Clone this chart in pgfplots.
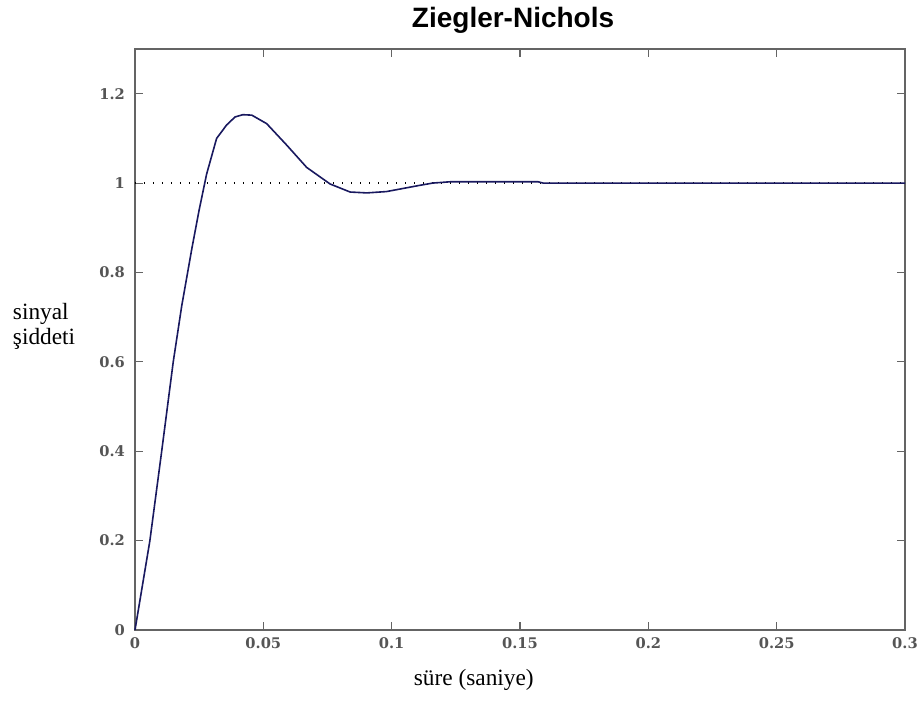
\documentclass[border=0pt]{standalone}
\usepackage{pgfplots}
\pgfplotsset{compat=1.18}
\usepackage{fontspec}
\setmainfont{Liberation Serif}
\newfontfamily\titlefont{Liberation Sans}
\newfontfamily\tickfont{DejaVu Serif}
\definecolor{curve}{RGB}{25,25,95}
\definecolor{tickgray}{RGB}{85,85,85}
\definecolor{boxgray}{RGB}{100,100,100}

\begin{document}
\begin{tikzpicture}
% fix the page to the reference's proportions (1px = 0.75pt)
\useasboundingbox (-101.25pt,-53.25pt) rectangle (591.75pt,472.5pt);
\begin{axis}[
  at={(0,0)}, anchor=south west,
  scale only axis, width=577.5pt, height=435.75pt,
  xmin=0, xmax=0.3, ymin=0, ymax=1.3,
  xtick={0,0.05,...,0.3}, ytick={0,0.2,...,1.2},
  xticklabels={0,0.05,0.1,0.15,0.2,0.25,0.3},
  yticklabels={0,0.2,0.4,0.6,0.8,1,1.2},
  tick align=inside, major tick length=6pt,
  tick style={boxgray, line width=0.8pt},
  axis line style={boxgray, line width=1.2pt},
  ticklabel style={font=\tickfont\bfseries\fontsize{11}{13}\selectfont, text=tickgray},
  xticklabel style={yshift=-2.5pt},
  yticklabel style={xshift=-4pt},
  clip=false,
]
\addplot[black, line width=0.9pt, dash pattern=on 1pt off 5.75pt] coordinates {(0,1) (0.3,1)};
\addplot[curve, line width=1.2pt] coordinates {
(0,0) (0.0058,0.20) (0.0104,0.40) (0.0149,0.60) (0.0182,0.725)
(0.0222,0.855) (0.0250,0.94) (0.0279,1.02) (0.0318,1.10) (0.0357,1.13)
(0.0390,1.148) (0.0420,1.153) (0.0455,1.152) (0.0513,1.133) (0.0591,1.085)
(0.0669,1.035) (0.0760,0.998) (0.0838,0.980) (0.0903,0.978) (0.0980,0.981)
(0.1110,0.995) (0.1160,1.000) (0.1230,1.003) (0.1570,1.003) (0.1590,1.000)
(0.3000,1.000)
};
\node[anchor=base, font=\titlefont\bfseries\fontsize{21}{24}\selectfont] at (rel axis cs:0.491,1.0373) {Ziegler-Nichols};
\node[anchor=base, font=\fontsize{17.5}{20}\selectfont] at (rel axis cs:0.44,-0.0947) {süre (saniye)};
\node[anchor=base west, inner sep=0pt, font=\fontsize{17.5}{20}\selectfont] at (rel axis cs:-0.1588,0.535) {sinyal};
\node[anchor=base west, inner sep=0pt, font=\fontsize{17.5}{20}\selectfont] at (rel axis cs:-0.1588,0.492) {şiddeti};
\end{axis}
\end{tikzpicture}
\end{document}
